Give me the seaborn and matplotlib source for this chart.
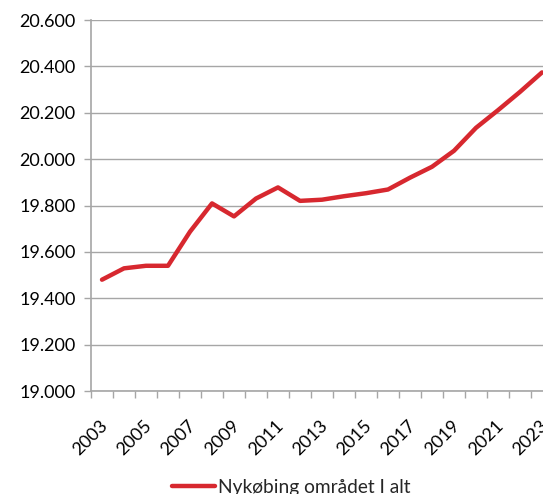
import matplotlib
matplotlib.use("Agg")
import matplotlib.pyplot as plt
import matplotlib.ticker as mticker
import matplotlib.transforms as mtransforms
import seaborn as sns
import pandas as pd
import numpy as np

years = list(range(2003, 2024))
values = [19480, 19529, 19540, 19540, 19687, 19809, 19753, 19830, 19878, 19820,
          19825, 19840, 19853, 19869, 19920, 19967, 20036, 20135, 20211, 20290, 20374]
series_name = "Nykøbing området I alt"
y_ticks = [19000, 19200, 19400, 19600, 19800, 20000, 20200, 20400, 20600]
x_label_years = list(range(2003, 2024, 2))

sns.set_theme(style="white")
plt.rcParams['font.family'] = ['Lato', 'DejaVu Sans']

W, H = 543, 494
fig = plt.figure(figsize=(W / 100, H / 100), dpi=100)
ax = fig.add_axes([91 / W, (H - 391) / H, 462 / W, 371 / H])

df = pd.DataFrame({"År": years, "Antal": values, "Serie": series_name})
line_color = "#d7282f"
sns.lineplot(data=df, x="År", y="Antal", ax=ax, color=line_color, linewidth=3.2,
             label=series_name, legend=False)

grey = "#a6a6a6"
ax.set_xlim(2002.5, 2023.5)
ax.set_ylim(19000, 20600)
ax.set_yticks(y_ticks)
ax.yaxis.set_major_formatter(mticker.FuncFormatter(lambda v, p: f"{v:,.0f}".replace(",", ".")))
ax.grid(axis="y", color=grey, linewidth=1.0)
ax.set_axisbelow(True)

ax.set_xticks(x_label_years)
ax.set_xticklabels([str(y) for y in x_label_years], rotation=45, ha="right",
                   rotation_mode="anchor")
ax.set_xticks(np.arange(2002.5, 2024.0, 1.0), minor=True)
ax.tick_params(axis="x", which="major", length=0, pad=19, labelsize=13, colors="black")
ax.tick_params(axis="x", which="minor", length=5, width=1, color=grey, direction="out",
               bottom=True)
ax.tick_params(axis="y", which="major", length=5, width=1, color=grey, direction="out",
               left=True, labelsize=13, pad=6, labelcolor="black")

shift = mtransforms.ScaledTranslation(-3 / 100, 0, fig.dpi_scale_trans)
for lbl in ax.get_xticklabels():
    lbl.set_transform(lbl.get_transform() + shift)

for s in ["top", "right"]:
    ax.spines[s].set_visible(False)
for s in ["left", "bottom"]:
    ax.spines[s].set_color(grey)
    ax.spines[s].set_linewidth(1.2)

ax.set_xlabel("")
ax.set_ylabel("")

handle = plt.Line2D([], [], color=line_color, linewidth=3.2)
fig.legend([handle], [series_name], loc="center left", bbox_to_anchor=(172 / W, 7 / H),
           frameon=False, fontsize=13.8, handlelength=2.25, handletextpad=0.15,
           borderpad=0, borderaxespad=0)

fig.savefig("out.png", dpi=100)
